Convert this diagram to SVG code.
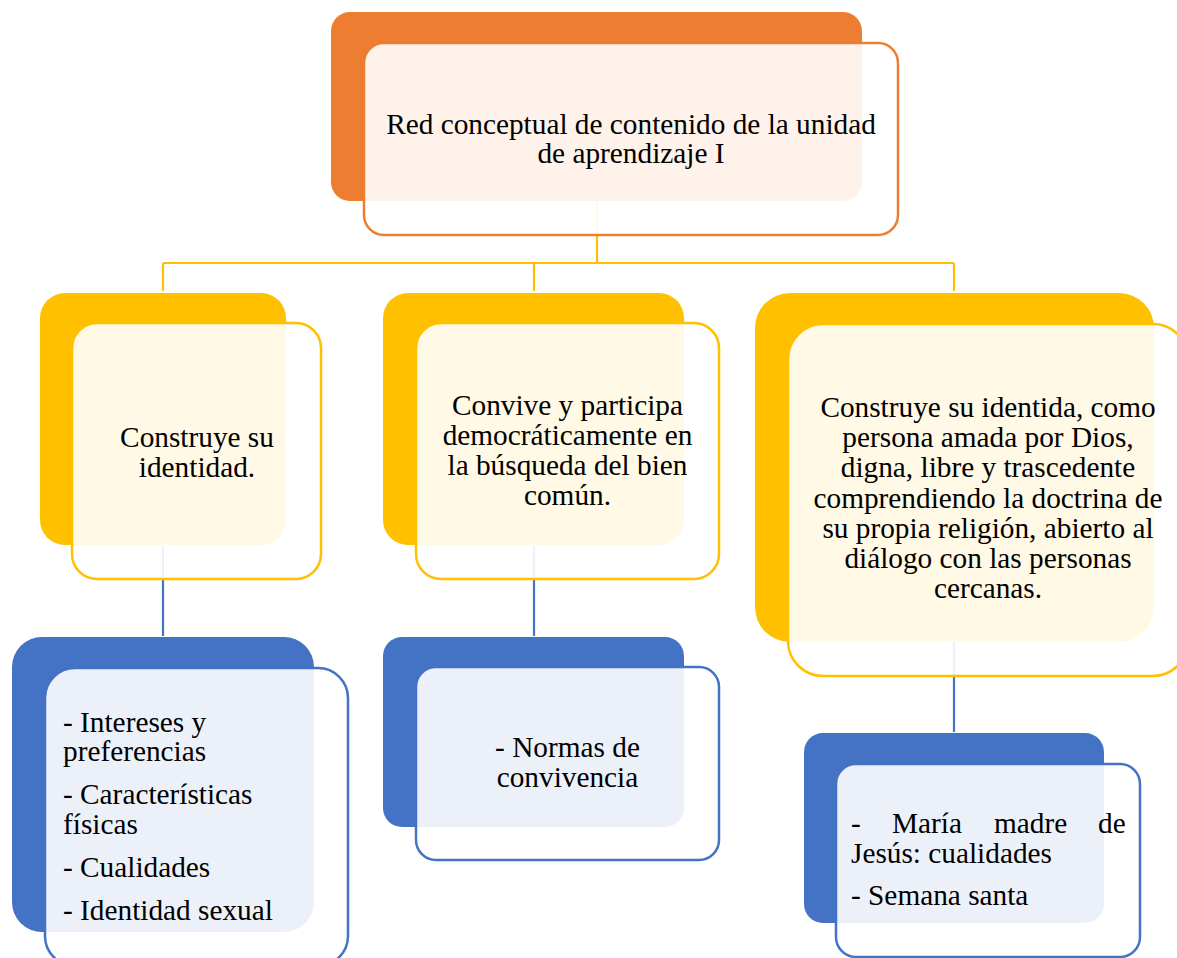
<svg xmlns="http://www.w3.org/2000/svg" width="1177" height="958" viewBox="0 0 1177 958">
  <style>
    .t { font-family: "Liberation Serif", "Times New Roman", serif; font-size: 29.3px; fill: #000; }
    .c { text-anchor: middle; }
    .front { fill: #fff; fill-opacity: 0.9; stroke-width: 2.5; }
    .or { fill: #ED7D31; }
    .gd { fill: #FFC000; }
    .bl { fill: #4472C4; }
    .sor { stroke: #ED7D31; }
    .sgd { stroke: #FFC000; }
    .sbl { stroke: #4472C4; }
    .conn { fill: none; stroke-width: 2.2; }
  </style>
  <rect width="1177" height="958" fill="#fff"/>
  <g id="connectors">
    <path class="conn sgd" d="M597 203 V263 M163 263 H954 M163 263 V291 M534 263 V291 M954 263 V291"/>
    <path class="conn sbl" d="M163 546 V636 M534 546 V636 M954 642 V732"/>
  </g>
  <g id="node-root">
    <rect class="or" x="331" y="12" width="531" height="189" rx="19"/>
    <rect class="front sor" x="364" y="43" width="534" height="192" rx="20"/>
    <text class="t c" x="631" y="134">Red conceptual de contenido de la unidad</text>
    <text class="t c" x="631" y="163">de aprendizaje I</text>
  </g>
  <g id="node-a">
    <rect class="gd" x="40" y="293" width="246" height="252" rx="25"/>
    <rect class="front sgd" x="72" y="323" width="249" height="256" rx="25"/>
    <text class="t c" x="197" y="447">Construye su</text>
    <text class="t c" x="197" y="477">identidad.</text>
  </g>
  <g id="node-b">
    <rect class="gd" x="383" y="293" width="301" height="252" rx="25"/>
    <rect class="front sgd" x="416" y="323" width="303" height="256" rx="25"/>
    <text class="t c" x="567.5" y="415">Convive y participa</text>
    <text class="t c" x="567.5" y="445">democráticamente en</text>
    <text class="t c" x="567.5" y="475">la búsqueda del bien</text>
    <text class="t c" x="567.5" y="505">común.</text>
  </g>
  <g id="node-c">
    <rect class="gd" x="755" y="293" width="399" height="349" rx="35"/>
    <rect class="front sgd" x="788" y="324" width="400" height="352" rx="35"/>
    <text class="t c" x="988" y="417">Construye su identida, como</text>
    <text class="t c" x="988" y="447">persona amada por Dios,</text>
    <text class="t c" x="988" y="477">digna, libre y trascedente</text>
    <text class="t c" x="988" y="508">comprendiendo la doctrina de</text>
    <text class="t c" x="988" y="538">su propia religión, abierto al</text>
    <text class="t c" x="988" y="568">diálogo con las personas</text>
    <text class="t c" x="988" y="598">cercanas.</text>
  </g>
  <g id="node-d">
    <rect class="bl" x="12" y="637" width="302" height="295" rx="30"/>
    <rect class="front sbl" x="45" y="668" width="303" height="298" rx="30"/>
    <text class="t" x="63" y="732">- Intereses y</text>
    <text class="t" x="63" y="761">preferencias</text>
    <text class="t" x="63" y="804">- Características</text>
    <text class="t" x="63" y="834">físicas</text>
    <text class="t" x="63" y="877">- Cualidades</text>
    <text class="t" x="63" y="920">- Identidad sexual</text>
  </g>
  <g id="node-e">
    <rect class="bl" x="383" y="637" width="301" height="190" rx="19"/>
    <rect class="front sbl" x="416" y="667" width="303" height="193" rx="20"/>
    <text class="t c" x="567.5" y="757">- Normas de</text>
    <text class="t c" x="567.5" y="787">convivencia</text>
  </g>
  <g id="node-f">
    <rect class="bl" x="804" y="733" width="300" height="190" rx="19"/>
    <rect class="front sbl" x="836" y="764" width="304" height="193" rx="20"/>
    <text class="t" y="833"><tspan x="851">-</tspan><tspan x="892">María</tspan><tspan x="994">madre</tspan><tspan x="1098">de</tspan></text>
    <text class="t" x="851" y="863">Jesús: cualidades</text>
    <text class="t" x="851" y="905">- Semana santa</text>
  </g>
</svg>
